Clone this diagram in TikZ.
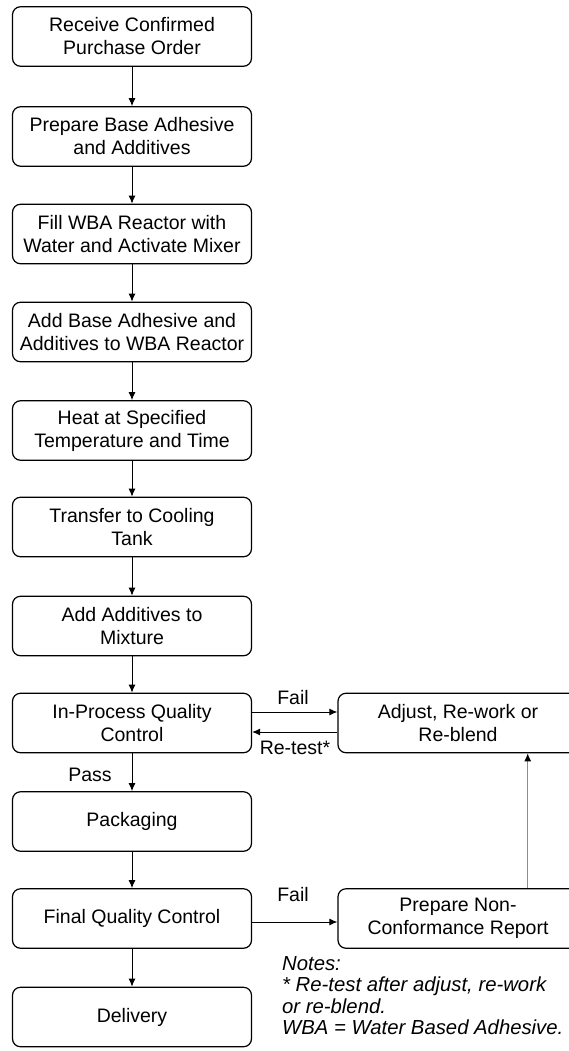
\documentclass[tikz,border=0pt]{standalone}
\usepackage{fontspec}
\setmainfont{Liberation Sans}
\usetikzlibrary{arrows.meta}
\begin{document}
\begin{tikzpicture}[x=1pt,y=-1pt,
  stepbox/.style={draw=black, line width=1.2pt, rounded corners=8pt,
    minimum width=239pt, minimum height=59.5pt, align=center,
    inner sep=2pt, font=\fontsize{19.5}{23}\selectfont},
  arr/.style={draw=black, line width=1pt, -{Latex[length=8pt,width=7pt]}},
  greyarr/.style={draw=black!45, line width=1pt, -{Latex[length=8pt,width=7pt,fill=black,color=black]}},
  lbl/.style={font=\fontsize{19.5}{23}\selectfont, inner sep=0pt}]
  \clip (0,0) rectangle (569,1051);
  \fill[white] (0,0) rectangle (569,1051);

  % main process column
  \node[stepbox] (b1)  at (132,36.5)  {Receive Confirmed\\Purchase Order};
  \node[stepbox] (b2)  at (132,136.5) {Prepare Base Adhesive\\and Additives};
  \node[stepbox] (b3)  at (132,234)   {Fill WBA Reactor with\\Water and Activate Mixer};
  \node[stepbox] (b4)  at (132,332)   {Add Base Adhesive and\\Additives to WBA Reactor};
  \node[stepbox] (b5)  at (132,430.5) {Heat at Specified\\Temperature and Time};
  \node[stepbox] (b6)  at (132,527)   {Transfer to Cooling\\Tank};
  \node[stepbox] (b7)  at (132,626)   {Add Additives to\\Mixture};
  \node[stepbox] (b8)  at (132,723)   {In-Process Quality\\Control};
  \node[stepbox] (b9)  at (132,821.5) {Packaging};
  \node[stepbox] (b10) at (132,918.5) {Final Quality Control};
  \node[stepbox] (b11) at (132,1017)  {Delivery};

  % side branch
  \node[stepbox, minimum width=240pt] (adj) at (458,723)   {Adjust, Re-work or\\Re-blend};
  \node[stepbox, minimum width=240pt] (rep) at (458,918.5) {Prepare Non-\\Conformance Report};

  % main flow
  \draw[arr] (b1) -- (b2);
  \draw[arr] (b2) -- (b3);
  \draw[arr] (b3) -- (b4);
  \draw[arr] (b4) -- (b5);
  \draw[arr] (b5) -- (b6);
  \draw[arr] (b6) -- (b7);
  \draw[arr] (b7) -- (b8);
  \draw[arr] (b8) -- (b9);
  \draw[arr] (b9) -- (b10);
  \draw[arr] (b10) -- (b11);

  % quality loops
  \draw[arr] ([yshift=11pt]b8.east) -- ([yshift=11pt]b8.east -| adj.west);
  \draw[arr] ([yshift=-9pt]adj.west) -- ([yshift=-9pt]adj.west -| b8.east);
  \draw[arr] ([yshift=-3.5pt]b10.east) -- ([yshift=-3.5pt]b10.east -| rep.west);
  \coordinate (vx) at (527.7,0);
  \draw[greyarr] (rep.north -| vx) -- (adj.south -| vx);

  % connector labels
  \node[lbl] (lfail1) at (293,698) {Fail};
  \node[lbl] (lretest) at (295,748) {Re-test*};
  \node[lbl] (lpass) at (90,775) {Pass};
  \node[lbl] (lfail2) at (293,895) {Fail};

  % notes
  \node[anchor=north west, align=left, inner sep=0pt,
        font=\fontsize{20.3}{21.5}\selectfont\itshape] (notes) at (282,956)
    {Notes:\\* Re-test after adjust, re-work\\or re-blend.\\WBA = Water Based Adhesive.};
\end{tikzpicture}
\end{document}
